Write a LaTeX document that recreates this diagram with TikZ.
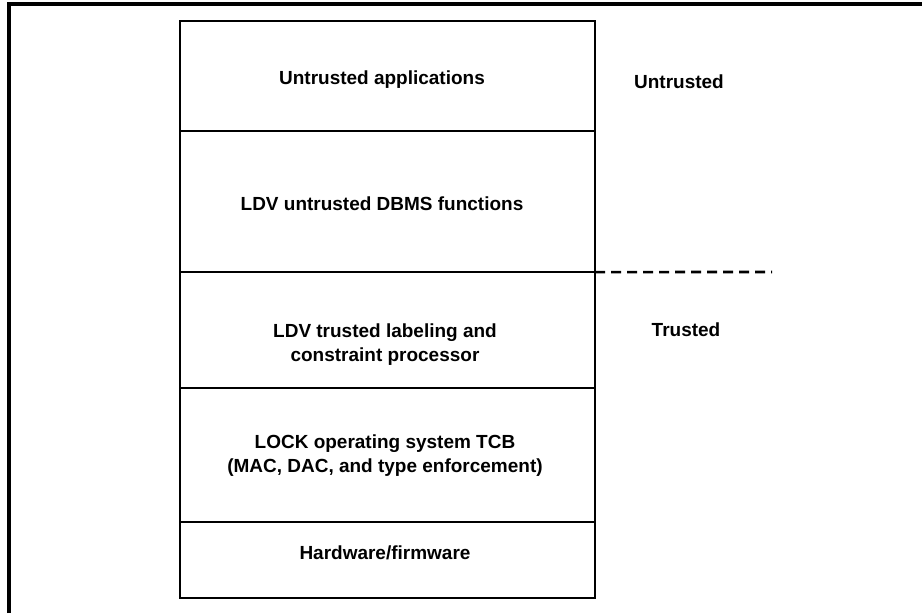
\documentclass[tikz,border=0pt]{standalone}
\usepackage{fontspec}
\setmainfont{Liberation Sans}
\usetikzlibrary{calc}
\tikzset{
  layer/.style={rectangle, draw=black, line width=1.5pt, outer sep=0pt,
    minimum width=10.375cm},
  ltext/.style={font=\fontsize{13.5pt}{17pt}\selectfont\bfseries, align=center, inner sep=0pt},
  zone/.style={font=\fontsize{13.5pt}{17pt}\selectfont\bfseries, inner sep=0pt},
  border/.style={line width=2.2pt},
  split/.style={line width=1.8pt, dash pattern=on 0.25cm off 0.15cm}
}
\begin{document}
\begin{tikzpicture}[x=0.025cm, y=-0.025cm]
\useasboundingbox (0,0) rectangle (922,613);

% page frame (open at right and bottom)
\draw[border] (9,613) |- (925,4);

% layer stack
\node[layer, minimum height=2.75cm]  (apps)  at (387.5,76)    {};
\node[layer, minimum height=3.525cm] (dbms)  at (387.5,201.5) {};
\node[layer, minimum height=2.9cm]   (label) at (387.5,330)   {};
\node[layer, minimum height=3.35cm]  (lock)  at (387.5,455)   {};
\node[layer, minimum height=1.9cm]   (hw)    at (387.5,560)   {};

% layer texts
\node[ltext] (appstxt)  at (382,80)  {Untrusted applications};
\node[ltext] (dbmstxt)  at (382,204) {LDV untrusted DBMS functions};
\node[ltext] (labeltxt) at (385,345) {LDV trusted labeling and\\constraint processor};
\node[ltext] (locktxt)  at (385,456) {LOCK operating system TCB\\(MAC, DAC, and type enforcement)};
\node[ltext] (hwtxt)    at (385,553) {Hardware/firmware};

% trust boundary
\coordinate (splitend) at (772,272);
\draw[split] (dbms.south east) -- (splitend);
\node[zone] (untrusted) at (679,82)  {Untrusted};
\node[zone] (trusted)   at (686,330) {Trusted};

\end{tikzpicture}
\end{document}
